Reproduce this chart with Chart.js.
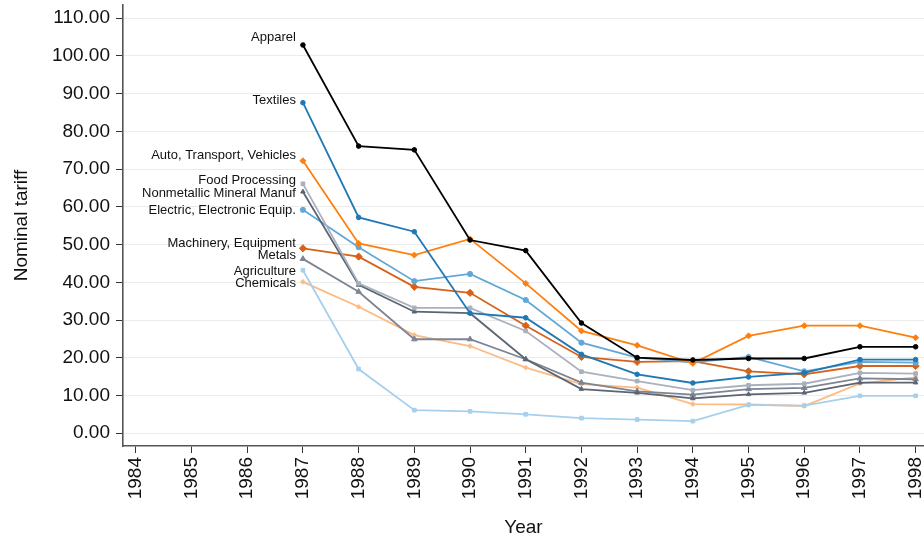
<!DOCTYPE html>
<html>
<head>
<meta charset="utf-8">
<script src="https://cdn.jsdelivr.net/npm/chart.js@4/dist/chart.umd.min.js"></script>
<style>
  html, body { margin: 0; padding: 0; background: #fff; overflow: hidden; }
  #wrap { width: 924px; height: 537px; }
  canvas { display: block; }
</style>
</head>
<body>
<div id="wrap"><canvas id="c" width="924" height="537"></canvas></div>
<script>
// Nominal tariffs by sector, 1987-1998
const years = [1987, 1988, 1989, 1990, 1991, 1992, 1993, 1994, 1995, 1996, 1997, 1998];
const axisYears = [1984, 1985, 1986, 1987, 1988, 1989, 1990, 1991, 1992, 1993, 1994, 1995, 1996, 1997, 1998];
const yTicks = [0, 10, 20, 30, 40, 50, 60, 70, 80, 90, 100, 110];

const apparel     = [102.9, 76.1, 75.1, 51.2, 48.4, 29.2, 20.0, 19.4, 19.8, 19.8, 22.9, 22.9];
const textiles    = [87.6, 57.2, 53.4, 31.8, 30.6, 20.9, 15.6, 13.3, 14.9, 16.0, 19.5, 19.5];
const auto        = [72.2, 50.3, 47.2, 51.5, 39.7, 27.1, 23.3, 18.5, 25.8, 28.5, 28.5, 25.3];
const food        = [66.1, 39.7, 33.2, 33.2, 27.1, 16.3, 13.8, 11.4, 12.7, 13.1, 16.0, 15.8];
const nonmetallic = [64.0, 39.3, 32.2, 31.8, 19.6, 11.7, 10.7, 9.2, 10.3, 10.7, 13.4, 13.4];
const electric    = [59.2, 49.3, 40.3, 42.2, 35.3, 24.0, 20.0, 18.8, 20.2, 16.4, 18.9, 18.7];
const machinery   = [49.0, 46.8, 38.8, 37.2, 28.5, 20.2, 18.9, 19.1, 16.4, 15.6, 17.8, 17.8];
const metals      = [46.2, 37.5, 24.9, 24.9, 19.6, 13.4, 11.1, 10.2, 11.7, 12.0, 14.5, 14.3];
const agriculture = [43.2, 17.0, 6.1, 5.8, 5.0, 4.0, 3.6, 3.2, 7.5, 7.3, 9.9, 9.9];
const chemicals   = [40.1, 33.5, 26.0, 23.1, 17.4, 13.0, 12.1, 7.7, 7.6, 7.2, 13.2, 14.8];

const FONT = "'Liberation Sans', Arial, Helvetica, sans-serif";

function series(label, values, color, style, radius, width, labelDy) {
  return {
    label,
    data: years.map((yr, i) => ({ x: yr, y: values[i] })),
    borderColor: color,
    backgroundColor: color,
    borderWidth: width,
    pointStyle: style,
    pointRadius: radius,
    pointHoverRadius: radius,
    pointBorderWidth: 1,
    tension: 0,
    fill: false,
    labelDy
  };
}

const datasets = [
  series('Apparel', apparel, '#000000', 'circle', 2.3, 1.8, -8),
  series('Textiles', textiles, '#1f77b4', 'circle', 2.3, 1.8, -2),
  series('Auto, Transport, Vehicles', auto, '#ff7f0e', 'rectRot', 3, 1.8, -5),
  series('Food Processing', food, '#a9b1bd', 'rect', 2.6, 1.8, -3),
  series('Nonmetallic Mineral Manuf', nonmetallic, '#5b6573', 'triangle', 2.6, 1.8, 2),
  series('Electric, Electronic Equip.', electric, '#63a7d6', 'circle', 2.6, 1.8, 1),
  series('Machinery, Equipment', machinery, '#d6621a', 'rectRot', 3.6, 1.8, -5),
  series('Metals', metals, '#7d8593', 'triangle', 3.2, 1.8, -3),
  series('Agriculture', agriculture, '#a7d0ec', 'rect', 2.6, 1.8, 1),
  series('Chemicals', chemicals, '#fdbb84', 'rectRot', 2.4, 1.8, 2)
];

// Sector names written to the left of each line's first point
const lineLabels = {
  id: 'lineLabels',
  afterDatasetsDraw(chart) {
    const { ctx, scales: { x, y } } = chart;
    ctx.save();
    ctx.font = '13px ' + FONT;
    ctx.fillStyle = '#111';
    ctx.textAlign = 'right';
    ctx.textBaseline = 'middle';
    chart.data.datasets.forEach(ds => {
      const p = ds.data[0];
      ctx.fillText(ds.label, x.getPixelForValue(p.x) - 7, y.getPixelForValue(p.y) + ds.labelDy);
    });
    ctx.restore();
  }
};

new Chart(document.getElementById('c'), {
  type: 'line',
  data: { datasets },
  plugins: [lineLabels],
  options: {
    responsive: false,
    animation: false,
    devicePixelRatio: 1,
    layout: { autoPadding: false, padding: { top: 5, right: 0, left: 0, bottom: 0 } },
    plugins: { legend: { display: false }, tooltip: { enabled: false } },
    scales: {
      x: {
        type: 'linear',
        min: 1983.77,
        max: 1998.15,
        afterBuildTicks: s => { s.ticks = axisYears.map(v => ({ value: v })); },
        afterFit: s => { s.height = 91; s.paddingLeft = 0; s.paddingRight = 0; s.paddingTop = 0; s.paddingBottom = 0; },
        grid: { drawOnChartArea: false, drawTicks: true, tickLength: 7, tickColor: '#333', tickWidth: 1 },
        border: { color: '#555', width: 1.6 },
        ticks: {
          autoSkip: false,
          minRotation: 90,
          maxRotation: 90,
          padding: 4,
          color: '#111',
          font: { family: FONT, size: 19 },
          callback: v => String(v)
        },
        title: {
          display: true,
          text: 'Year',
          color: '#111',
          font: { family: FONT, size: 19, lineHeight: 1 },
          padding: { top: 0, bottom: 0 }
        }
      },
      y: {
        type: 'linear',
        min: -3.4,
        max: 113.5,
        afterBuildTicks: s => { s.ticks = yTicks.map(v => ({ value: v })); },
        afterFit: s => { s.width = 123; s.paddingTop = 0; s.paddingBottom = 0; s.paddingLeft = 0; s.paddingRight = 0; },
        grid: { color: '#ebebeb', lineWidth: 1, tickLength: 7, tickColor: '#333', tickWidth: 1 },
        border: { color: '#555', width: 1.6 },
        ticks: {
          padding: 6,
          color: '#111',
          font: { family: FONT, size: 19 },
          callback: v => Number(v).toFixed(2)
        },
        title: {
          display: true,
          text: 'Nominal tariff',
          color: '#111',
          font: { family: FONT, size: 19, lineHeight: 1 },
          padding: { top: 12, bottom: 0 }
        }
      }
    }
  }
});
</script>
</body>
</html>
